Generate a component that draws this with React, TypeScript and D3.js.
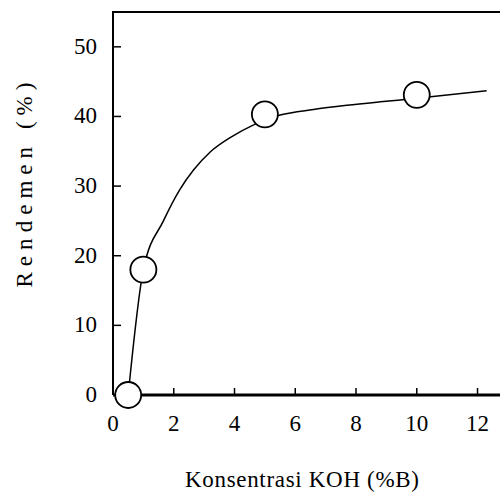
import React from 'react'
import * as d3 from 'd3'

// measured points
const konsentrasi = [0.5, 1, 5, 10]
const rendemen = [0, 18, 40.3, 43.1]

// fitted curve
const fitX = [0.5, 1, 1.66, 2.2, 2.65, 3.2, 3.87, 4.63, 5.5, 6.6, 7.7, 8.8, 10, 12.3]
const fitY = [0, 18, 25.0, 29.5, 32.3, 34.9, 37.0, 38.8, 40.2, 41.0, 41.6, 42.1, 42.6, 43.7]

const xTicks = [0, 2, 4, 6, 8, 10, 12]
const yTicks = [0, 10, 20, 30, 40, 50]

const textStyle = { fontFamily: "'Liberation Serif', 'DejaVu Serif', 'Noto Serif', FreeSerif, serif", fontSize: 23 }

function App () {
  const width = 500
  const height = 495
  const left = 113
  const top = 12
  const bottom = 395

  const x = d3.scaleLinear().domain([0, 12.74]).range([left, width])
  const y = d3.scaleLinear().domain([0, 55]).range([bottom, top])

  const line = d3.line<number>()
    .x((d, i) => x(fitX[i]))
    .y(d => y(d))
    .curve(d3.curveMonotoneX)

  return (
    <svg width={width} height={height} style={{ position: 'absolute', left: 0, top: 0, background: '#fff' }}>
      {/* frame */}
      <line x1={left} x2={width} y1={top} y2={top} stroke='#000' strokeWidth={2} />
      <line x1={left} x2={left} y1={top - 1} y2={bottom} stroke='#000' strokeWidth={2} />
      <line x1={left} x2={width} y1={bottom} y2={bottom} stroke='#000' strokeWidth={3} />

      {xTicks.map(t => (
        <g key={'x' + t}>
          <line x1={x(t)} x2={x(t)} y1={bottom} y2={bottom - 7} stroke='#000' strokeWidth={1.5} />
          <text x={x(t)} y={431} textAnchor='middle' style={textStyle}>{t}</text>
        </g>
      ))}
      {yTicks.map(t => (
        <g key={'y' + t}>
          <line x1={left} x2={left + 8} y1={y(t)} y2={y(t)} stroke='#000' strokeWidth={1.5} />
          <text x={97} y={y(t) + 7} textAnchor='end' style={textStyle}>{t}</text>
        </g>
      ))}

      <path d={line(fitY) || ''} fill='none' stroke='#000' strokeWidth={1.5} />

      {konsentrasi.map((k, i) => (
        <circle key={i} cx={x(k)} cy={y(rendemen[i])} r={13} fill='#fff' stroke='#000' strokeWidth={1.8} />
      ))}

      <text x={302} y={487} textAnchor='middle' style={textStyle}
        textLength={234} lengthAdjust='spacing'>Konsentrasi KOH (%B)</text>
      <text transform='translate(32,185) rotate(-90)' textAnchor='middle' style={textStyle}
        textLength={205} lengthAdjust='spacing'>Rendemen (%)</text>
    </svg>
  )
}

export default App
